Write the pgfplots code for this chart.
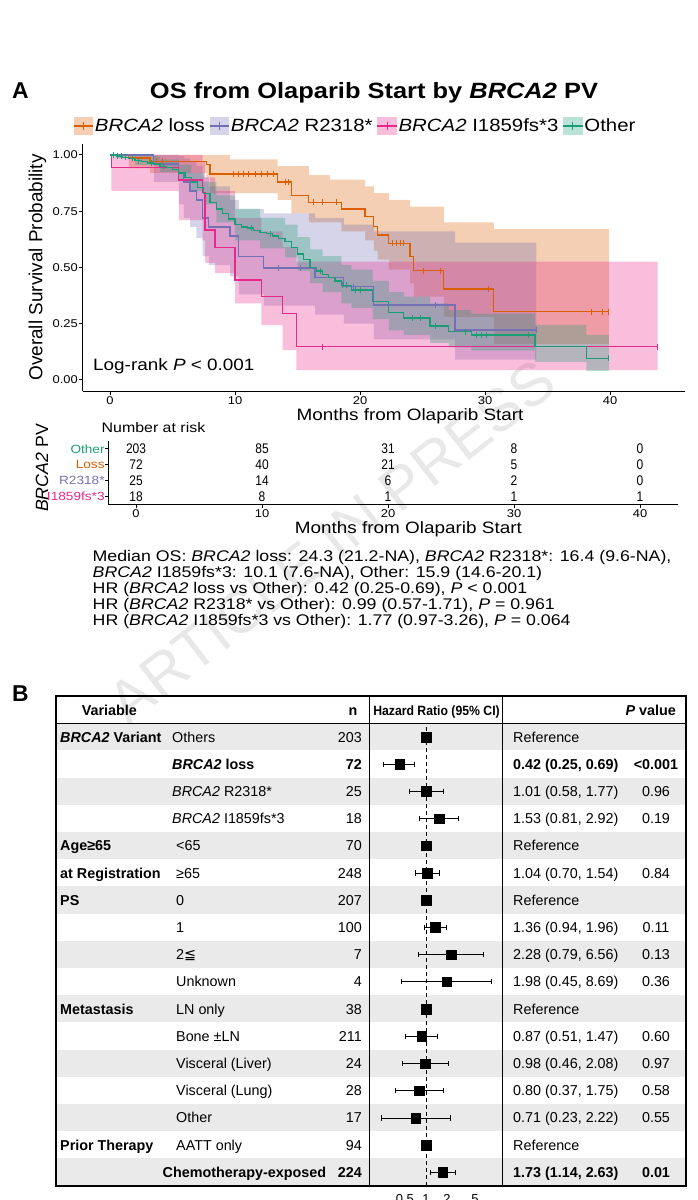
\documentclass[border=0pt]{standalone}
\usepackage{fontspec}
\setmainfont{Liberation Sans}
\newfontfamily\wide[FakeStretch=1.15]{Liberation Sans}
\newfontfamily\narrowfont[FakeStretch=0.86]{Liberation Sans}
\newfontfamily\hdrfont[FakeStretch=0.91]{Liberation Sans}
\newfontfamily\symfont{DejaVu Sans}
\usepackage{pgfplots}
\pgfplotsset{compat=1.18}

\definecolor{cLoss}{HTML}{D95F02}
\definecolor{cR}{HTML}{7570B3}
\definecolor{cI}{HTML}{E7298A}
\definecolor{cO}{HTML}{1B9E77}
\definecolor{rowgray}{HTML}{EAEAEA}

\newcommand\fs[1]{\fontsize{#1}{#1}\selectfont}

% legend key: translucent box, line and censor tick
\newcommand\kmkey[1]{%
  \path[fill=#1, fill opacity=0.3, draw=none] (0bp,-9bp) rectangle (19.3bp,9bp);
  \draw[#1, line width=1.3bp] (0bp,0bp) -- (19.3bp,0bp);
  \draw[#1, line width=1bp] (9.65bp,-4bp) -- (9.65bp,4bp);}

% one row of the forest table: index, level x, group, level, n, HR text, P
\newcommand\trow[7]{%
  \pgfmathsetmacro\yy{1200-723.3-27.2*(#1+0.5)-5.2}%
  \node[anchor=base west] at (60,\yy) {#3};
  \node[anchor=base west] at (#2,\yy) {#4};
  \node[anchor=base east] at (362,\yy) {#5};
  \node[anchor=base west] at (513,\yy) {#6};
  \node[anchor=base] at (656,\yy) {#7};
}

\begin{document}
\begin{tikzpicture}[x=1bp,y=1bp]
\useasboundingbox (0,0) rectangle (698,1200);

% watermark, behind everything
\node[rotate=38, inner sep=0pt, font=\fs{60}, text=black!9] at (331.5,1200-541.5) {ARTICLE IN PRESS};

% ---------------- panel A ----------------
\node[anchor=west, inner sep=0pt, font=\fs{23}\bfseries] at (12,1200-91) {A};
\node[inner sep=0pt, font=\wide\fs{22.2}\bfseries] at (374,1200-93) {OS from Olaparib Start by \textit{BRCA2} PV};

\begin{axis}[
  at={(82.5bp,808.75bp)}, anchor=south west,
  width=602.5bp, height=247.5bp, scale only axis,
  xmin=-2.2, xmax=46, ymin=-0.05, ymax=1.05,
  axis x line*=bottom, axis y line*=left,
  axis line style={line width=1.3bp,-},
  xtick={0,10,20,30,40},
  ytick={0,0.25,0.5,0.75,1},
  yticklabels={0.00,0.25,0.50,0.75,1.00},
  tick style={black, line width=1bp},
  tick align=outside, major tick length=3.5bp,
  ticklabel style={font=\wide\fs{11.3}},
  xticklabel style={inner sep=1.5bp},
  yticklabel style={inner sep=1bp},
  /pgf/number format/assume math mode=true,
  xlabel={Months from Olaparib Start},
  ylabel={Overall Survival Probability},
  xlabel style={font=\wide\fs{16.5}, at={(axis description cs:0.5436,-0.1028)}, anchor=center},
  ylabel style={font=\fs{19}, at={(axis description cs:-0.0747,0.5)}, anchor=center},
  legend style={at={(-0.0158,1.0717)}, anchor=west, draw=none, fill=none,
    inner sep=0pt, font=\wide\fs{17.8}, legend columns=4,
    nodes={inner sep=1.2bp},
    /tikz/every even column/.append style={column sep=3bp}},
  legend cell align=left,
]
% confidence bands (upper steps forward, lower steps back)
\addplot[fill=cLoss, fill opacity=0.3, draw=none, forget plot] coordinates {
  (0,1) (9.6,1) (9.6,0.98) (13.4,0.98) (13.4,0.95) (15.9,0.95) (15.9,0.91)
  (17.6,0.91) (17.6,0.89) (20.4,0.89) (20.4,0.86) (21.1,0.86) (21.1,0.83)
  (22.3,0.83) (22.3,0.80) (24.0,0.80) (24.0,0.77) (26.7,0.77) (26.7,0.70)
  (30.7,0.70) (30.7,0.67) (39.9,0.67)
  (39.9,0.16) (30.7,0.16) (30.7,0.28) (26.7,0.28) (26.7,0.37) (24.3,0.37)
  (24.3,0.43) (24.0,0.43) (24.0,0.49) (22.3,0.49) (22.3,0.535) (21.4,0.535)
  (21.4,0.575) (21.1,0.575) (21.1,0.62) (20.4,0.62) (20.4,0.66) (18.5,0.66)
  (18.5,0.70) (15.9,0.70) (15.9,0.74) (14.5,0.74) (14.5,0.80) (13.4,0.80)
  (13.4,0.83) (8.0,0.83) (8.0,0.90) (7.7,0.90) (7.7,0.92) (3.2,0.92)
  (3.2,0.94) (1.5,0.94) (1.5,1) (0,1)};
\addplot[fill=cR, fill opacity=0.3, draw=none, forget plot] coordinates {
  (0,1) (5.5,1) (5.5,0.995) (5.9,0.995) (5.9,0.985) (6.4,0.985) (6.4,0.97)
  (6.9,0.97) (6.9,0.95) (7.4,0.95) (7.4,0.90) (7.9,0.90) (7.9,0.86)
  (9.6,0.86) (9.6,0.80) (10.3,0.80) (10.3,0.76) (12.3,0.76) (12.3,0.74)
  (16.4,0.74) (16.4,0.72) (18.7,0.72) (18.7,0.69) (21.1,0.69) (21.1,0.66)
  (27.6,0.66) (27.6,0.61) (34.1,0.61)
  (34.1,0.09) (27.6,0.09) (27.6,0.18) (21.1,0.18) (21.1,0.25) (18.7,0.25)
  (18.7,0.29) (16.4,0.29) (16.4,0.33) (12.3,0.33) (12.3,0.38) (10.3,0.38)
  (10.3,0.46) (9.6,0.46) (9.6,0.51) (7.9,0.51) (7.9,0.55) (7.4,0.55)
  (7.4,0.63) (6.9,0.63) (6.9,0.68) (6.4,0.68) (6.4,0.72) (5.9,0.72)
  (5.9,0.78) (5.5,0.78) (5.5,0.88) (3.5,0.88) (3.5,1) (0,1)};
\addplot[fill=cI, fill opacity=0.3, draw=none, forget plot] coordinates {
  (0,1) (7.4,1) (7.4,0.97) (7.6,0.97) (7.6,0.90) (8.4,0.90) (8.4,0.84)
  (10.0,0.84) (10.0,0.72) (12.1,0.72) (12.1,0.66) (13.8,0.66) (13.8,0.59)
  (14.9,0.59) (14.9,0.526) (43.8,0.526)
  (43.8,0.044) (14.9,0.044) (14.9,0.133) (13.8,0.133) (13.8,0.244)
  (12.1,0.244) (12.1,0.34) (10.0,0.34) (10.0,0.475) (8.4,0.475) (8.4,0.52)
  (7.6,0.52) (7.6,0.62) (7.4,0.62) (7.4,0.71) (5.5,0.71) (5.5,0.84)
  (0.1,0.84) (0.1,1) (0,1)};
\addplot[fill=cO, fill opacity=0.3, draw=none, forget plot] coordinates {
  (0,1) (2,1) (2,0.995) (4,0.995) (4,0.98) (5.5,0.98) (5.5,0.955)
  (6.5,0.955) (6.5,0.92) (7.5,0.92) (7.5,0.88) (8.5,0.88) (8.5,0.82)
  (10,0.82) (10,0.76) (12,0.76) (12,0.72) (14,0.72) (14,0.69) (15,0.69)
  (15,0.635) (16,0.635) (16,0.58) (17,0.58) (17,0.55) (18.5,0.55)
  (18.5,0.51) (19.3,0.51) (19.3,0.49) (21,0.49) (21,0.44) (22.3,0.44)
  (22.3,0.39) (23.5,0.39) (23.5,0.37) (25.6,0.37) (25.6,0.34) (27.1,0.34)
  (27.1,0.31) (28.9,0.31) (28.9,0.295) (34,0.295) (34,0.245) (38.1,0.245)
  (38.1,0.20) (39.9,0.20)
  (39.9,0.04) (38.1,0.04) (38.1,0.08) (34,0.08) (34,0.13) (28.9,0.13)
  (28.9,0.145) (27.1,0.145) (27.1,0.165) (25.6,0.165) (25.6,0.20)
  (23.5,0.20) (23.5,0.22) (22.3,0.22) (22.3,0.27) (21,0.27) (21,0.32)
  (19.3,0.32) (19.3,0.34) (18.5,0.34) (18.5,0.39) (17,0.39) (17,0.43)
  (16,0.43) (16,0.485) (15,0.485) (15,0.545) (14,0.545) (14,0.585)
  (12,0.585) (12,0.62) (10,0.62) (10,0.70) (8.5,0.70) (8.5,0.78)
  (7.5,0.78) (7.5,0.84) (6.5,0.84) (6.5,0.885) (5.5,0.885) (5.5,0.925)
  (4,0.925) (4,0.955) (2,0.955) (2,0.985) (0.5,0.985) (0.5,1) (0,1)};

% survival curves
\addplot[cLoss, line width=1.3bp, const plot, forget plot] coordinates {
  (0,1) (1.5,0.986) (3.2,0.972) (7.7,0.958) (8.0,0.916) (13.4,0.880)
  (14.5,0.820) (15.9,0.790) (18.5,0.760) (20.4,0.726) (21.1,0.683)
  (21.4,0.644) (22.3,0.607) (24.0,0.548) (24.3,0.486) (26.7,0.404)
  (30.7,0.304) (39.9,0.304)};
\addplot[cR, line width=1.3bp, const plot, forget plot] coordinates {
  (0,1) (3.5,0.96) (5.5,0.92) (5.9,0.88) (6.4,0.84) (6.9,0.80) (7.4,0.72)
  (7.9,0.68) (9.6,0.64) (10.3,0.548) (12.3,0.498) (16.4,0.457) (18.7,0.415)
  (21.1,0.333) (27.6,0.222) (34.1,0.222)};
\addplot[cI, line width=1.3bp, const plot, forget plot] coordinates {
  (0,1) (0.1,0.944) (5.5,0.889) (7.4,0.833) (7.6,0.667) (8.4,0.59)
  (10.0,0.444) (12.1,0.37) (13.8,0.296) (14.9,0.148) (43.8,0.148)};
\addplot[cO, line width=1.3bp, const plot, forget plot] coordinates {
  (0,1) (0.5,0.995) (1.0,0.99) (1.5,0.985) (2.0,0.975) (2.5,0.97) (3.0,0.965)
  (3.5,0.96) (4.0,0.95) (4.5,0.945) (5.0,0.935) (5.5,0.92) (6.0,0.90)
  (6.5,0.88) (7.0,0.855) (7.5,0.83) (8.0,0.79) (8.5,0.76) (9.0,0.74)
  (9.5,0.715) (10.0,0.69) (10.5,0.68) (11.0,0.675) (11.5,0.665) (12.0,0.655)
  (12.5,0.65) (13.0,0.64) (13.5,0.63) (14.0,0.615) (14.5,0.59) (15.0,0.56)
  (15.5,0.535) (16.0,0.50) (16.5,0.485) (17.0,0.47) (17.5,0.455) (18.0,0.44)
  (18.5,0.42) (19.3,0.40) (21.0,0.35) (22.3,0.30) (23.5,0.275) (25.6,0.24)
  (27.1,0.215) (28.9,0.20) (34.0,0.148) (38.1,0.097) (39.9,0.097)};

% censoring marks
\addplot[cLoss, only marks, mark=|, mark size=3bp, mark options={line width=0.9bp}, forget plot] coordinates {
  (3.7,0.972) (4.2,0.972) (9.9,0.916) (10.3,0.916) (10.7,0.916) (11.1,0.916)
  (11.6,0.916) (12.1,0.916) (12.6,0.916) (13.1,0.916) (14.0,0.88) (14.3,0.88)
  (16.3,0.79) (17.0,0.79) (18.1,0.79) (22.6,0.607) (22.9,0.607) (23.2,0.607)
  (23.5,0.607) (25.1,0.486) (26.4,0.486) (30.3,0.404) (38.5,0.304)
  (39.4,0.304) (39.9,0.304)};
\addplot[cR, only marks, mark=|, mark size=3bp, mark options={line width=0.9bp}, forget plot] coordinates {
  (13.5,0.498) (15.2,0.498) (19.5,0.415) (26.0,0.333) (34.1,0.222)};
\addplot[cI, only marks, mark=|, mark size=3bp, mark options={line width=0.9bp}, forget plot] coordinates {
  (17.0,0.148) (43.8,0.148)};
\addplot[cO, only marks, mark=|, mark size=3bp, mark options={line width=0.9bp}, forget plot] coordinates {
  (0.3,1) (0.6,0.995) (0.9,0.995) (1.2,0.99) (1.8,0.985) (2.3,0.975)
  (3.3,0.965) (4.3,0.95) (11.3,0.675) (12.8,0.65) (16.8,0.485) (18.6,0.42)
  (18.9,0.42) (19.6,0.40) (20.0,0.40) (24.2,0.275) (24.8,0.275) (26.0,0.24)
  (28.4,0.215) (29.3,0.20) (29.7,0.20) (30.1,0.20) (33.5,0.20) (39.9,0.097)};

% legend
\addlegendimage{legend image code/.code={\kmkey{cLoss}}}
\addlegendentry{\textit{BRCA2} loss}
\addlegendimage{legend image code/.code={\kmkey{cR}}}
\addlegendentry{\textit{BRCA2} R2318*}
\addlegendimage{legend image code/.code={\kmkey{cI}}}
\addlegendentry{\textit{BRCA2} I1859fs*3}
\addlegendimage{legend image code/.code={\kmkey{cO}}}
\addlegendentry{Other}

\node[anchor=west, inner sep=0pt, font=\wide\fs{16.5}] at (axis cs:-1.36,0.059) {Log-rank \textit{P} < 0.001};
\end{axis}

% number at risk
\node[anchor=west, inner sep=0pt, font=\wide\fs{13.9}] at (101.5,1200-427.7) {Number at risk};
\node[rotate=90, inner sep=0pt, font=\fs{17.8}] at (42,1200-468) {\textit{BRCA2} PV};

\begin{axis}[
  at={(108.3bp,695.4bp)}, anchor=south west,
  width=569.5bp, height=63.6bp, scale only axis,
  xmin=-2.2, xmax=43, ymin=0.5, ymax=4.5,
  axis x line*=bottom, axis y line*=left,
  axis line style={line width=1.3bp,-},
  xtick={0,10,20,30,40}, ytick={1,2,3,4},
  yticklabels={\textcolor{cI}{I1859fs*3},\textcolor{cR}{R2318*},\textcolor{cLoss}{Loss},\textcolor{cO}{Other}},
  tick style={black, line width=1bp},
  tick align=outside, major tick length=3bp,
  xticklabel style={font=\wide\fs{11.3}, inner sep=1.5bp},
  yticklabel style={font=\wide\fs{11.9}, inner sep=0.5bp},
  /pgf/number format/assume math mode=true,
  xlabel={Months from Olaparib Start},
  xlabel style={font=\wide\fs{16.5}, at={(axis description cs:0.527,-0.3836)}, anchor=center},
]
\addplot[only marks, mark=none, nodes near coords, point meta=explicit symbolic,
  every node near coord/.append style={anchor=center, inner sep=0pt, font=\narrowfont\fs{14}}]
  table[meta=lab] {
x y lab
0 4 203
10 4 85
20 4 31
30 4 8
40 4 0
0 3 72
10 3 40
20 3 21
30 3 5
40 3 0
0 2 25
10 2 14
20 2 6
30 2 2
40 2 0
0 1 18
10 1 8
20 1 1
30 1 1
40 1 1
};
\end{axis}

% summary text
\begin{scope}[every node/.style={anchor=base west, inner sep=0pt, font=\wide\fs{15.5}}]
\node at (92.5,1200-561.5) {Median OS: \textit{BRCA2} loss: 24.3 (21.2-NA), \textit{BRCA2} R2318*: 16.4 (9.6-NA),};
\node at (92.5,1200-577.5) {\textit{BRCA2} I1859fs*3: 10.1 (7.6-NA), Other: 15.9 (14.6-20.1)};
\node at (92.5,1200-593.5) {HR (\textit{BRCA2} loss vs Other): 0.42 (0.25-0.69), \textit{P} < 0.001};
\node at (92.5,1200-609.5) {HR (\textit{BRCA2} R2318* vs Other): 0.99 (0.57-1.71), \textit{P} = 0.961};
\node at (92.5,1200-625.5) {HR (\textit{BRCA2} I1859fs*3 vs Other): 1.77 (0.97-3.26), \textit{P} = 0.064};
\end{scope}

% ---------------- panel B ----------------
\node[anchor=west, inner sep=0pt, font=\fs{23}\bfseries] at (12,1200-694) {B};

\foreach \i in {0,2,...,16} {
  \fill[rowgray] (56,{1200-723.3-27.2*\i}) rectangle (686,{1200-723.3-27.2*(\i+1)});
}

\begin{axis}[
  at={(369.3bp,14bp)}, anchor=south west,
  width=133.4bp, height=462.7bp, scale only axis,
  xmode=log, xmin=0.155, xmax=12.46, ymin=-0.5, ymax=16.5,
  axis y line=none, axis x line*=bottom, axis line style={draw=none},
  xtick={0.5,1,2,5}, xticklabels={0.5,1,2,5}, major tick length=0pt,
  xticklabel style={font=\fs{13}, anchor=north, inner sep=0pt, yshift=-8bp},
  clip=false,
]
\addplot[black, line width=0.8bp, dash pattern=on 4bp off 3bp, forget plot] coordinates {(1,-0.5) (1,16.5)};
\addplot[black, line width=0.9bp, mark=|, mark size=2.6bp, forget plot] coordinates {(0.25,15) (0.69,15)};
\addplot[black, line width=0.9bp, mark=|, mark size=2.6bp, forget plot] coordinates {(0.58,14) (1.77,14)};
\addplot[black, line width=0.9bp, mark=|, mark size=2.6bp, forget plot] coordinates {(0.81,13) (2.92,13)};
\addplot[black, line width=0.9bp, mark=|, mark size=2.6bp, forget plot] coordinates {(0.70,11) (1.54,11)};
\addplot[black, line width=0.9bp, mark=|, mark size=2.6bp, forget plot] coordinates {(0.94,9) (1.96,9)};
\addplot[black, line width=0.9bp, mark=|, mark size=2.6bp, forget plot] coordinates {(0.79,8) (6.56,8)};
\addplot[black, line width=0.9bp, mark=|, mark size=2.6bp, forget plot] coordinates {(0.45,7) (8.69,7)};
\addplot[black, line width=0.9bp, mark=|, mark size=2.6bp, forget plot] coordinates {(0.51,5) (1.47,5)};
\addplot[black, line width=0.9bp, mark=|, mark size=2.6bp, forget plot] coordinates {(0.46,4) (2.08,4)};
\addplot[black, line width=0.9bp, mark=|, mark size=2.6bp, forget plot] coordinates {(0.37,3) (1.75,3)};
\addplot[black, line width=0.9bp, mark=|, mark size=2.6bp, forget plot] coordinates {(0.23,2) (2.22,2)};
\addplot[black, line width=0.9bp, mark=|, mark size=2.6bp, forget plot] coordinates {(1.14,0) (2.63,0)};
\addplot[only marks, mark=square*, mark size=4.8bp, black, forget plot] table {
hr row
1 16
0.42 15
1.01 14
1.53 13
1 12
1.04 11
1 10
1.36 9
2.28 8
1.98 7
1 6
0.87 5
0.98 4
0.80 3
0.71 2
1 1
1.73 0
};
\end{axis}

\begin{scope}[every node/.style={inner sep=0pt, font=\fs{14.4}}]
\node[anchor=base west] at (81.7,1200-715.7) {\textbf{Variable}};
\node[anchor=base] at (353,1200-715.7) {\textbf{n}};
\node[anchor=base, font=\hdrfont\bfseries\fs{13.5}] at (436.5,1200-715.5) {Hazard Ratio (95\% CI)};
\node[anchor=base east] at (676,1200-715.7) {\textbf{\textit{P} value}};
\trow{0}{172}{\textbf{\textit{BRCA2} Variant}}{Others}{203}{Reference}{}
\trow{1}{172}{}{\textbf{\textit{BRCA2} loss}}{\textbf{72}}{\textbf{0.42 (0.25, 0.69)}}{\textbf{<0.001}}
\trow{2}{172}{}{\textit{BRCA2} R2318*}{25}{1.01 (0.58, 1.77)}{0.96}
\trow{3}{172}{}{\textit{BRCA2} I1859fs*3}{18}{1.53 (0.81, 2.92)}{0.19}
\trow{4}{176}{\textbf{Age≥65}}{<65}{70}{Reference}{}
\trow{5}{176}{\textbf{at Registration}}{≥65}{248}{1.04 (0.70, 1.54)}{0.84}
\trow{6}{176}{\textbf{PS}}{0}{207}{Reference}{}
\trow{7}{176}{}{1}{100}{1.36 (0.94, 1.96)}{0.11}
\trow{8}{176}{}{2{\symfont ≦}}{7}{2.28 (0.79, 6.56)}{0.13}
\trow{9}{176}{}{Unknown}{4}{1.98 (0.45, 8.69)}{0.36}
\trow{10}{176}{\textbf{Metastasis}}{LN only}{38}{Reference}{}
\trow{11}{176}{}{Bone ±LN}{211}{0.87 (0.51, 1.47)}{0.60}
\trow{12}{176}{}{Visceral (Liver)}{24}{0.98 (0.46, 2.08)}{0.97}
\trow{13}{176}{}{Visceral (Lung)}{28}{0.80 (0.37, 1.75)}{0.58}
\trow{14}{176}{}{Other}{17}{0.71 (0.23, 2.22)}{0.55}
\trow{15}{176}{\textbf{Prior Therapy}}{AATT only}{94}{Reference}{}
\trow{16}{162.5}{}{\textbf{Chemotherapy-exposed}}{\textbf{224}}{\textbf{1.73 (1.14, 2.63)}}{\textbf{0.01}}
\end{scope}

\draw[line width=1.3bp] (56,1200-696) rectangle (686,1200-1186);
\draw[line width=1.3bp] (56,1200-723.3) -- (686,1200-723.3);
\draw[line width=1.3bp] (369.3,1200-696) -- (369.3,1200-1186);
\draw[line width=1.3bp] (502.7,1200-696) -- (502.7,1200-1186);
\end{tikzpicture}
\end{document}
